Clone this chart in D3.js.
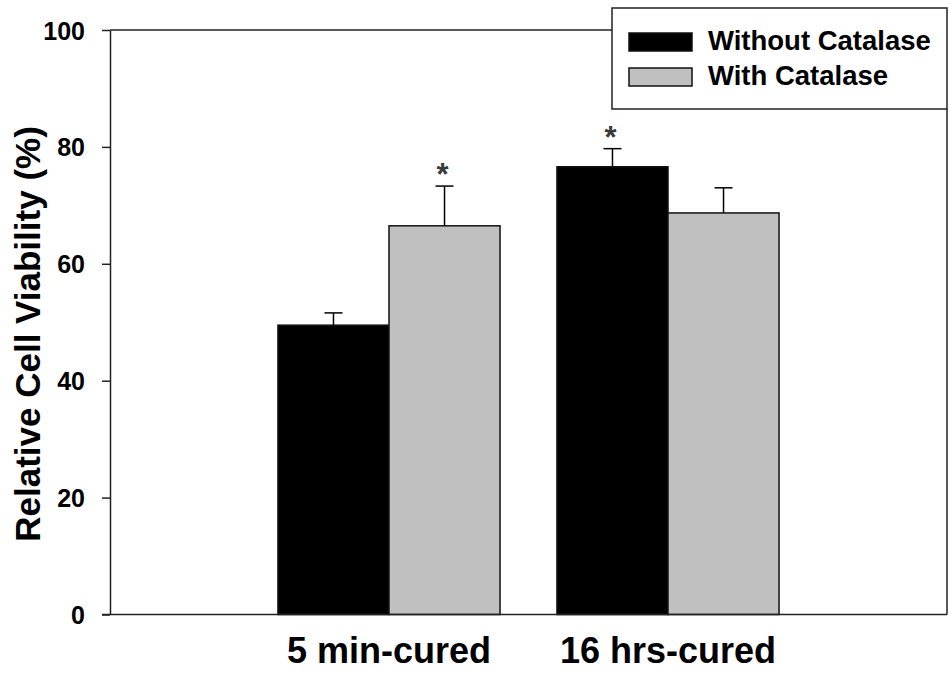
<!DOCTYPE html>
<html>
<head>
<meta charset="utf-8">
<script src="https://cdn.jsdelivr.net/npm/d3@7"></script>
<style>
  body { margin: 0; background: #fff; }
  svg { display: block; font-family: "Liberation Sans", Arial, sans-serif; font-weight: bold; }
</style>
</head>
<body>
<div id="chart"></div>
<script>
// Data
const categories = ["5 min-cured", "16 hrs-cured"];
const seriesNames = ["Without Catalase", "With Catalase"];
const withoutCatalase = [49.5, 76.6];
const withCatalase = [66.5, 68.7];
const withoutCatalaseErr = [2.1, 3.1];
const withCatalaseErr = [6.8, 4.3];
const significant = [[false, true], [true, false]]; // [category][series]
const yTicks = [0, 20, 40, 60, 80, 100];

const seriesColors = ["#000000", "#c0c0c0"];

const width = 949, height = 674;
const plotLeft = 110, plotRight = 947, plotTop = 30, plotBottom = 614.5;

const svg = d3.select("#chart")
    .append("svg")
    .attr("width", width)
    .attr("height", height);

// Scales
const x = d3.scaleBand()
    .domain(categories)
    .range([plotLeft, plotRight])
    .paddingInner(0.204)
    .paddingOuter(0.602);

const xSub = d3.scaleBand()
    .domain(seriesNames)
    .range([0, x.bandwidth()]);

const y = d3.scaleLinear()
    .domain([0, 100])
    .range([plotBottom, plotTop]);

// Frame lines (top and right)
svg.append("line")
    .attr("x1", plotLeft).attr("x2", 612)
    .attr("y1", y(100)).attr("y2", y(100))
    .attr("stroke", "#222").attr("stroke-width", 1.5);
svg.append("line")
    .attr("x1", plotRight).attr("x2", plotRight)
    .attr("y1", 109).attr("y2", y(0))
    .attr("stroke", "#222").attr("stroke-width", 1.5);

// Bars
const rows = categories.map(function(c, i) {
    return [
        { cat: c, s: seriesNames[0], v: withoutCatalase[i], e: withoutCatalaseErr[i], star: significant[i][0], color: seriesColors[0] },
        { cat: c, s: seriesNames[1], v: withCatalase[i], e: withCatalaseErr[i], star: significant[i][1], color: seriesColors[1] }
    ];
});

const groups = svg.selectAll("g.group")
    .data(rows)
    .enter()
    .append("g")
    .attr("class", "group")
    .attr("transform", function(d) { return `translate(${x(d[0].cat)},0)`; });

const bars = groups.selectAll("g.bar")
    .data(function(d) { return d; })
    .enter()
    .append("g")
    .attr("class", "bar");

// error bars drawn first so the bar covers the lower half
bars.append("line")
    .attr("x1", function(d) { return xSub(d.s) + xSub.bandwidth() / 2; })
    .attr("x2", function(d) { return xSub(d.s) + xSub.bandwidth() / 2; })
    .attr("y1", function(d) { return y(d.v); })
    .attr("y2", function(d) { return y(d.v + d.e); })
    .attr("stroke", "#000").attr("stroke-width", 1.5);

bars.append("line")
    .attr("x1", function(d) { return xSub(d.s) + xSub.bandwidth() / 2 - 9; })
    .attr("x2", function(d) { return xSub(d.s) + xSub.bandwidth() / 2 + 9; })
    .attr("y1", function(d) { return y(d.v + d.e); })
    .attr("y2", function(d) { return y(d.v + d.e); })
    .attr("stroke", "#000").attr("stroke-width", 1.5);

bars.append("rect")
    .attr("x", function(d) { return xSub(d.s); })
    .attr("y", function(d) { return y(d.v); })
    .attr("width", xSub.bandwidth())
    .attr("height", function(d) { return y(0) - y(d.v); })
    .attr("fill", function(d) { return d.color; })
    .attr("stroke", "#111")
    .attr("stroke-width", 1.5);

// significance stars
bars.filter(function(d) { return d.star; })
    .append("text")
    .attr("x", function(d) { return xSub(d.s) + xSub.bandwidth() / 2 - 2; })
    .attr("y", function(d) { return y(d.v + d.e) - 1; })
    .attr("text-anchor", "middle")
    .attr("font-size", "31px")
    .attr("fill", "#3a3a3a")
    .text("*");

// Y axis
const yAxis = svg.append("g")
    .attr("transform", `translate(${plotLeft},0)`)
    .call(d3.axisLeft(y).tickValues(yTicks).tickSize(8).tickPadding(17).tickSizeOuter(0));
yAxis.select(".domain").attr("stroke", "#222").attr("stroke-width", 1.5);
yAxis.selectAll(".tick line").attr("stroke", "#222").attr("stroke-width", 1.5);
yAxis.selectAll(".tick text")
    .attr("font-size", "25px")
    .attr("font-family", "'Liberation Sans', Arial, sans-serif")
    .attr("font-weight", "bold")
    .attr("fill", "#000")
    .attr("dy", "0.36em");

// X axis (baseline only, no ticks)
const xAxis = svg.append("g")
    .attr("transform", `translate(0,${plotBottom})`)
    .call(d3.axisBottom(x).tickSize(0).tickPadding(23).tickSizeOuter(0));
xAxis.select(".domain").attr("stroke", "#222").attr("stroke-width", 1.5)
    .attr("d", `M${plotLeft - 8},0H${plotRight}`);
xAxis.selectAll(".tick text")
    .attr("font-size", "36px")
    .attr("font-family", "'Liberation Sans', Arial, sans-serif")
    .attr("font-weight", "bold")
    .attr("fill", "#000");

// Y axis title
svg.append("text")
    .attr("transform", `translate(40,${(125 + 543) / 2}) rotate(-90)`)
    .attr("text-anchor", "middle")
    .attr("font-size", "35px")
    .attr("fill", "#000")
    .text("Relative Cell Viability (%)");

// Legend
const legend = svg.append("g");
legend.append("rect")
    .attr("x", 612).attr("y", 8)
    .attr("width", plotRight - 612).attr("height", 101)
    .attr("fill", "#fff")
    .attr("stroke", "#222").attr("stroke-width", 1.5);

const items = legend.selectAll("g.item")
    .data(seriesNames)
    .enter()
    .append("g")
    .attr("class", "item")
    .attr("transform", function(d, i) { return `translate(629,${33 + i * 35})`; });

items.append("rect")
    .attr("width", 63).attr("height", 18)
    .attr("fill", function(d, i) { return seriesColors[i]; })
    .attr("stroke", "#111").attr("stroke-width", 1.5);

items.append("text")
    .attr("x", 79).attr("y", 17)
    .attr("font-size", "27.5px")
    .attr("fill", "#000")
    .text(function(d) { return d; });
</script>
</body>
</html>
